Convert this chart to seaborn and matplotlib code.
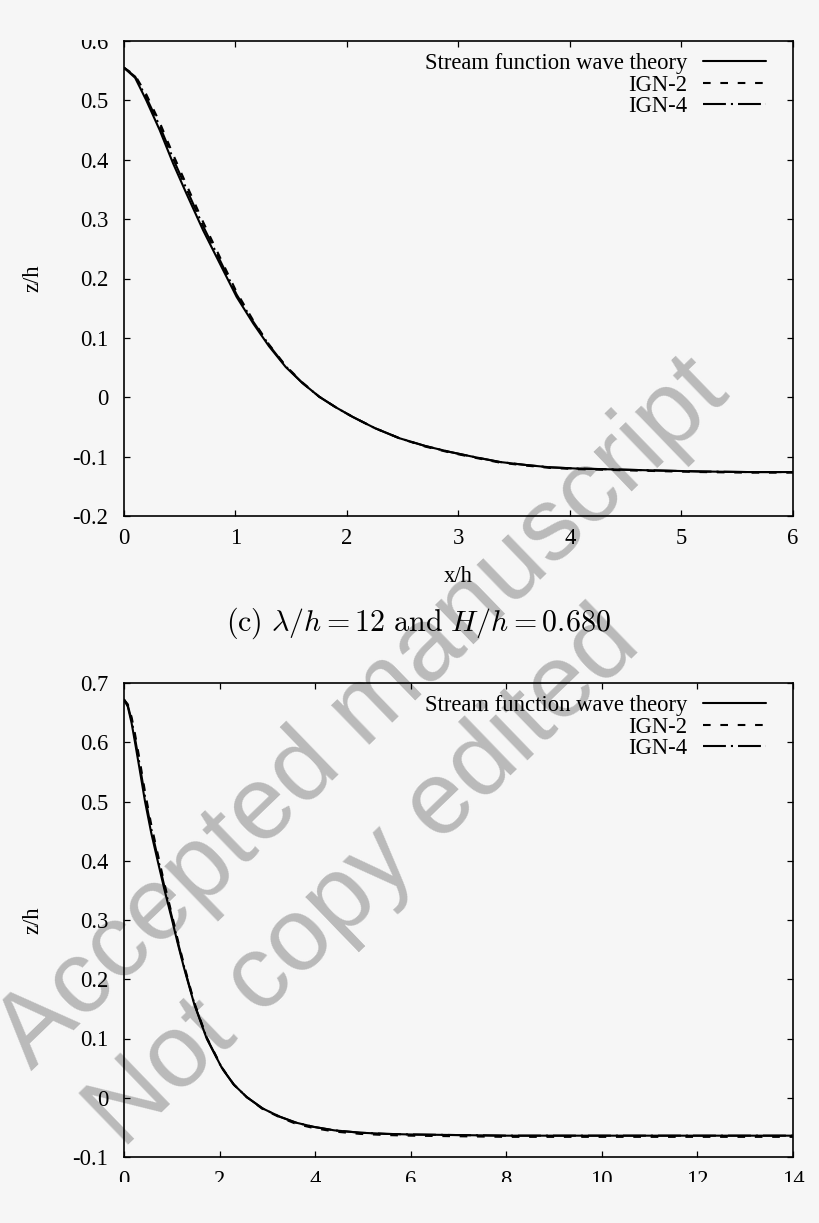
import numpy as np
import pandas as pd
import matplotlib
matplotlib.use("Agg")
import matplotlib.pyplot as plt
from matplotlib.patches import Rectangle
import seaborn as sns

# ---------------- data ----------------
# panel (c): lambda/h = 12, H/h = 0.680
top_x = [0, 0.1, 0.2, 0.32, 0.44, 0.56, 0.71, 0.86, 1.01, 1.16, 1.3, 1.45, 1.6, 1.75, 1.9,
         2.05, 2.25, 2.47, 2.7, 2.92, 3.15, 3.37, 3.6, 3.82, 4.05, 4.27, 4.7, 5.17, 5.6, 6.0]
top_sf = [0.555, 0.538, 0.500, 0.450, 0.394, 0.343, 0.281, 0.225, 0.169, 0.124, 0.086, 0.051,
          0.024, 0.001, -0.017, -0.033, -0.052, -0.069, -0.082, -0.092, -0.101, -0.109, -0.114,
          -0.118, -0.120, -0.121, -0.123, -0.125, -0.126, -0.126]
top_ign2 = [0.555, 0.542, 0.510, 0.463, 0.409, 0.358, 0.295, 0.236, 0.177, 0.129, 0.089, 0.053,
            0.025, 0.001, -0.017, -0.033, -0.052, -0.069, -0.083, -0.093, -0.102, -0.110, -0.115,
            -0.119, -0.121, -0.122, -0.124, -0.126, -0.127, -0.127]
top_ign4 = [0.555, 0.540, 0.505, 0.457, 0.402, 0.351, 0.288, 0.231, 0.173, 0.127, 0.088, 0.052,
            0.024, 0.001, -0.017, -0.033, -0.052, -0.069, -0.082, -0.092, -0.101, -0.109, -0.114,
            -0.118, -0.120, -0.121, -0.123, -0.125, -0.126, -0.126]

# panel (d)
bot_x = [0, 0.08, 0.16, 0.23, 0.33, 0.44, 0.57, 0.71, 0.85, 1.0, 1.12, 1.26, 1.47, 1.73, 2.05,
         2.3, 2.57, 2.9, 3.26, 3.6, 3.96, 4.4, 4.94, 5.5, 6.0, 7, 8, 9, 10, 11, 12, 13, 14]
bot_sf = [0.672, 0.660, 0.632, 0.600, 0.553, 0.500, 0.447, 0.398, 0.350, 0.302, 0.262, 0.218,
          0.158, 0.100, 0.050, 0.022, 0.001, -0.018, -0.032, -0.042, -0.049, -0.055, -0.059,
          -0.061, -0.062, -0.063, -0.064, -0.064, -0.064, -0.064, -0.064, -0.064, -0.064]
bot_ign2 = [0.672, 0.664, 0.642, 0.614, 0.569, 0.516, 0.461, 0.410, 0.360, 0.310, 0.268, 0.223,
            0.161, 0.102, 0.051, 0.022, 0.001, -0.019, -0.033, -0.044, -0.051, -0.057, -0.061,
            -0.063, -0.064, -0.065, -0.066, -0.066, -0.066, -0.066, -0.066, -0.066, -0.066]
bot_ign4 = [0.672, 0.662, 0.637, 0.607, 0.561, 0.508, 0.454, 0.404, 0.355, 0.306, 0.265, 0.220,
            0.159, 0.101, 0.050, 0.022, 0.001, -0.018, -0.032, -0.042, -0.049, -0.055, -0.059,
            -0.061, -0.062, -0.063, -0.064, -0.064, -0.064, -0.064, -0.064, -0.064, -0.064]

series_labels = ["Stream function wave theory", "IGN-2", "IGN-4"]
top_xticks = [0, 1, 2, 3, 4, 5, 6]
top_yticks = [-0.2, -0.1, 0, 0.1, 0.2, 0.3, 0.4, 0.5, 0.6]
bot_xticks = [0, 2, 4, 6, 8, 10, 12, 14]
bot_yticks = [-0.1, 0, 0.1, 0.2, 0.3, 0.4, 0.5, 0.6, 0.7]
caption_c = r"$\mathrm{(c)}\ \lambda/h = 12\ \mathrm{and}\ H/h = 0.680$"
watermark = ["Accepted manuscript", "Not copy edited"]

# ---------------- style ----------------
BG = "#f6f6f6"
FS = 16.3
sns.set_theme(style="ticks")
plt.rcParams["font.family"] = ["Liberation Serif", "DejaVu Serif"]
plt.rcParams["mathtext.fontset"] = "cm"
plt.rcParams["lines.scale_dashes"] = False
plt.rcParams["axes.unicode_minus"] = False

W, H = 820, 1223
fig = plt.figure(figsize=(W / 100, H / 100), dpi=100, facecolor=BG)


def fx(px):
    return px / W


def fy(py):
    return 1 - py / H


ax_top = fig.add_axes([fx(124), fy(516), fx(793) - fx(124), fy(41) - fy(516)])
ax_bot = fig.add_axes([fx(124), fy(1157), fx(793) - fx(124), fy(683) - fy(1157)])

styles = ["-", (0, (5.5, 7.0)), (0, (16.5, 3.6, 1.5, 3.6))]


def fmt(v):
    if abs(v) < 1e-9:
        return "0"
    return f"{v:.1f}"


def draw(ax, xs, ys_list, xticks, yticks, xlim, ylim):
    for ys, lab, ls in zip(ys_list, series_labels, styles):
        df = pd.DataFrame({"x": xs, "z": ys})
        sns.lineplot(data=df, x="x", y="z", ax=ax, color="black", linewidth=1.5,
                     linestyle=ls, label=lab, estimator=None, errorbar=None, sort=True)
    ax.set_xlim(*xlim)
    ax.set_ylim(*ylim)
    ax.set_xticks(xticks)
    ax.set_xticklabels([str(t) for t in xticks])
    ax.set_yticks(yticks)
    ax.set_yticklabels([fmt(t) for t in yticks])
    ax.tick_params(direction="in", length=4.5, width=0.9, top=True, right=True,
                   labelsize=FS, colors="black")
    ax.tick_params(axis="y", pad=11.5)
    ax.tick_params(axis="x", pad=9)
    for sp in ax.spines.values():
        sp.set_visible(True)
        sp.set_linewidth(1.2)
        sp.set_color("black")
    ax.set_facecolor("none")
    ax.set_zorder(1)
    ax.set_ylabel("z/h", fontsize=FS, color="black")
    ax.yaxis.set_label_coords(-0.136, 0.5)
    ax.yaxis.label.set_va("center")
    leg = ax.legend(loc="upper right", bbox_to_anchor=(0.9596, 0.974), frameon=False,
                    markerfirst=False, fontsize=FS, handlelength=2.8, handletextpad=0.66,
                    labelspacing=0.02, borderpad=0, borderaxespad=0)
    for t in leg.get_texts():
        t.set_color("black")
    return ax


draw(ax_top, top_x, [top_sf, top_ign2, top_ign4], top_xticks, top_yticks, (0, 6), (-0.2, 0.6))
ax_top.set_xlabel("x/h", fontsize=FS, color="black")
ax_top.xaxis.set_label_coords(0.5, -0.128)
ax_top.xaxis.label.set_va("center")

draw(ax_bot, bot_x, [bot_sf, bot_ign2, bot_ign4], bot_xticks, bot_yticks, (0, 14), (-0.1, 0.7))
ax_bot.set_xlabel("")

fig.text(fx(418), fy(623), caption_c, fontsize=21.6, ha="center", va="center",
         color="black", zorder=3)

# watermark
fig.text(fx(363), fy(714), watermark[0], fontsize=75, family="Liberation Sans",
         color="#bababa", rotation=44, ha="center", va="center",
         rotation_mode="anchor", zorder=0.5)
fig.text(fx(365), fy(880), watermark[1], fontsize=75, family="Liberation Sans",
         color="#bababa", rotation=44, ha="center", va="center",
         rotation_mode="anchor", zorder=0.5)

# cropped page edges
fig.patches.append(Rectangle((0, fy(40)), 1, 1 - fy(40), transform=fig.transFigure,
                             facecolor=BG, edgecolor="none", zorder=10))
fig.patches.append(Rectangle((0, 0), 1, fy(1182), transform=fig.transFigure,
                             facecolor=BG, edgecolor="none", zorder=10))

fig.savefig("out.png", dpi=100, facecolor=BG)
